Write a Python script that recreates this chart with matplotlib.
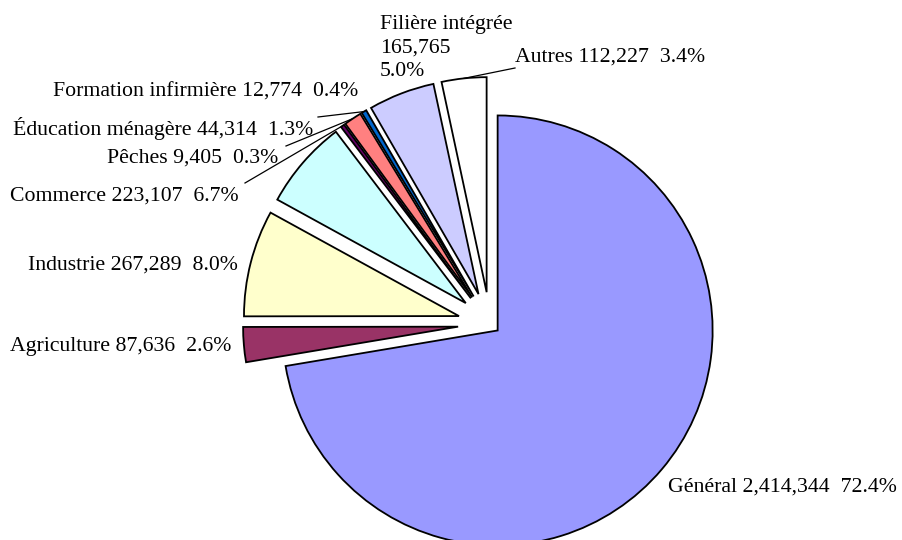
import numpy as np
import matplotlib.pyplot as plt

plt.rcParams['font.family'] = ['Liberation Serif', 'DejaVu Serif']

categories = ['Général', 'Agriculture', 'Industrie', 'Commerce', 'Pêches',
              'Éducation ménagère', 'Formation infirmière', 'Filière intégrée', 'Autres']
students = [2414344, 87636, 267289, 223107, 9405, 44314, 12774, 165765, 112227]
colors = ['#9999ff', '#993366', '#ffffcc', '#ccffff', '#660066',
          '#ff8080', '#0066cc', '#ccccff', '#ffffff']

# layout in pixels of the 903x540 picture (y grows downward)
center = (490, 324)
radius = 215
explode = [10] + [32] * 8
label_pos = [(668, 487), (10, 347), (28, 265), (10, 196), (107, 158),
             (13, 128), (53, 92), (380, 48), (515, 57)]
leader_start = {4: (245, 183), 5: (286, 146), 6: (318, 117), 8: (515, 68)}

total = sum(students)
pct = [100 * v / total for v in students]

fig = plt.figure(figsize=(9.03, 5.4), dpi=100)
ax = fig.add_axes([0, 0, 1, 1])

wedges, _ = ax.pie(students, colors=colors, explode=explode, center=center,
                   radius=radius, startangle=-90, counterclock=True,
                   wedgeprops=dict(edgecolor='black', linewidth=1.3))
for w in wedges:
    w.set_zorder(3)

ax.set_xlim(0, 903)
ax.set_ylim(540, 0)
ax.set_aspect('equal')
ax.axis('off')

for i, (name, v, p) in enumerate(zip(categories, students, pct)):
    if name == 'Filière intégrée':
        txt = f'{name}\n{v:,}\n{p:.1f}%'
    else:
        txt = f'{name} {v:,}  {p:.1f}%'
    x, y = label_pos[i]
    ax.text(x, y, txt, ha='left', va='center', fontsize=15.7,
            linespacing=1.35, zorder=5)
    if i in leader_start:
        w = wedges[i]
        mid = np.deg2rad((w.theta1 + w.theta2) / 2)
        cx, cy = w.center
        ex = cx + radius * np.cos(mid)
        ey = cy + radius * np.sin(mid)
        sx, sy = leader_start[i]
        ax.plot([sx, ex], [sy, ey], color='black', lw=0.9, zorder=2)

fig.savefig('out.png', dpi=100, facecolor='white')
